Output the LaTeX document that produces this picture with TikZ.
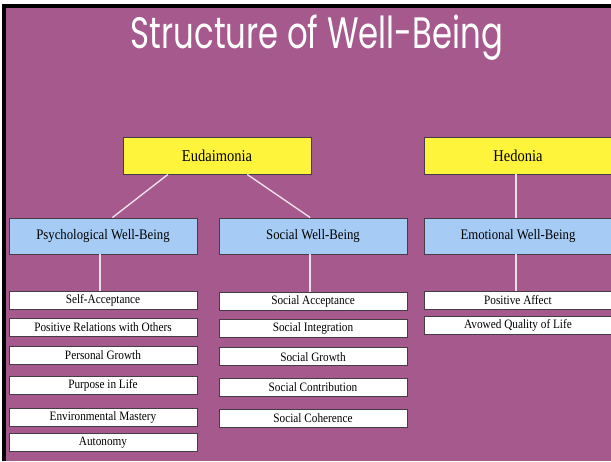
\documentclass[tikz,border=0pt]{standalone}
\usepackage{fontspec}
\usepackage{tikz}
\usetikzlibrary{calc}
\newfontfamily\boxfont[FakeStretch=0.88]{Liberation Serif}
\newfontfamily\titlefont[FakeStretch=0.735]{Poppins}
\definecolor{slidepurple}{RGB}{165,89,141}
\definecolor{headyellow}{RGB}{255,244,60}
\definecolor{wbblue}{RGB}{166,204,246}
\definecolor{linkpink}{RGB}{240,222,234}
\definecolor{boxedge}{RGB}{70,60,70}

\begin{document}
\begin{tikzpicture}[x=1pt,y=-1pt,
  head/.style={draw=boxedge,line width=0.9pt,fill=headyellow,minimum width=188pt,minimum height=37pt,inner sep=0pt,font=\boxfont\fontsize{16.5}{18}\selectfont},
  wb/.style={head,fill=wbblue,minimum height=36pt,font=\boxfont\fontsize{14.5}{16}\selectfont},
  item/.style={draw=boxedge,line width=0.8pt,fill=white,minimum width=188pt,minimum height=18pt,inner sep=0pt,font=\boxfont\fontsize{12.8}{14}\selectfont},
  link/.style={draw=linkpink,line width=1.4pt}]

          % --- Slide frame (pixel coordinates, y downwards) ---
          \useasboundingbox (0,0) rectangle (611,461);
          \clip (0,0) rectangle (611,461);
          \fill[white] (0,0) rectangle (611,461);
          \fill[black] (2,4) rectangle (611,461);
          \fill[slidepurple] (6,8) rectangle (611,461);

          % --- Title ---
          \node[anchor=base,text=white,font=\titlefont\fontsize{44}{48}\selectfont] (title) at (317,48.5) {Structure of Well-Being};

          % --- Top level: eudaimonic vs hedonic ---
          \node[head] (eud) at (217,155.5) {Eudaimonia};
          \node[head] (hed) at (518,155.5) {Hedonia};

          % --- Second level ---
          \node[wb] (pwb) at (103,236) {Psychological Well-Being};
          \node[wb] (swb) at (313,236) {Social Well-Being};
          \node[wb] (ewb) at (518,236) {Emotional Well-Being};

          % --- Dimensions under each well-being type ---
          \foreach \n/\y/\t in {pa/300.8/Self-Acceptance,pb/327/Positive Relations with Others,
          pc/355/Personal Growth,pd/385/Purpose in Life,pe/417.5/Environmental Mastery,pf/442.2/Autonomy}{
            \node[item] (\n) at (103,\y) {\t};
          }
          \foreach \n/\y/\t in {sa/301.5/Social Acceptance,sb/328.2/Social Integration,
          sc/356.8/Social Growth,sd/387.5/Social Contribution,se/418.5/Social Coherence}{
            \node[item] (\n) at (313,\y) {\t};
          }
          \foreach \n/\y/\t in {ea/300/Positive Affect,eb/325.5/Avowed Quality of Life}{
            \node[item] (\n) at (518,\y) {\t};
          }

          % --- Connectors ---
          \draw[link] ($(eud.south west)!0.24!(eud.south east)$) -- ($(pwb.north west)!0.55!(pwb.north east)$);
          \draw[link] ($(eud.south west)!0.66!(eud.south east)$) -- ($(swb.north west)!0.485!(swb.north east)$);
          \draw[link] ([xshift=-2pt]hed.south) -- ([xshift=-2pt]ewb.north);
          \draw[link] ([xshift=-3pt]pwb.south) -- ([xshift=-3pt]pa.north);
          \draw[link] ([xshift=-3pt]swb.south) -- ([xshift=-3pt]sa.north);
          \draw[link] ([xshift=-2pt]ewb.south) -- ([xshift=-2pt]ea.north);

        \end{tikzpicture}
\end{document}
